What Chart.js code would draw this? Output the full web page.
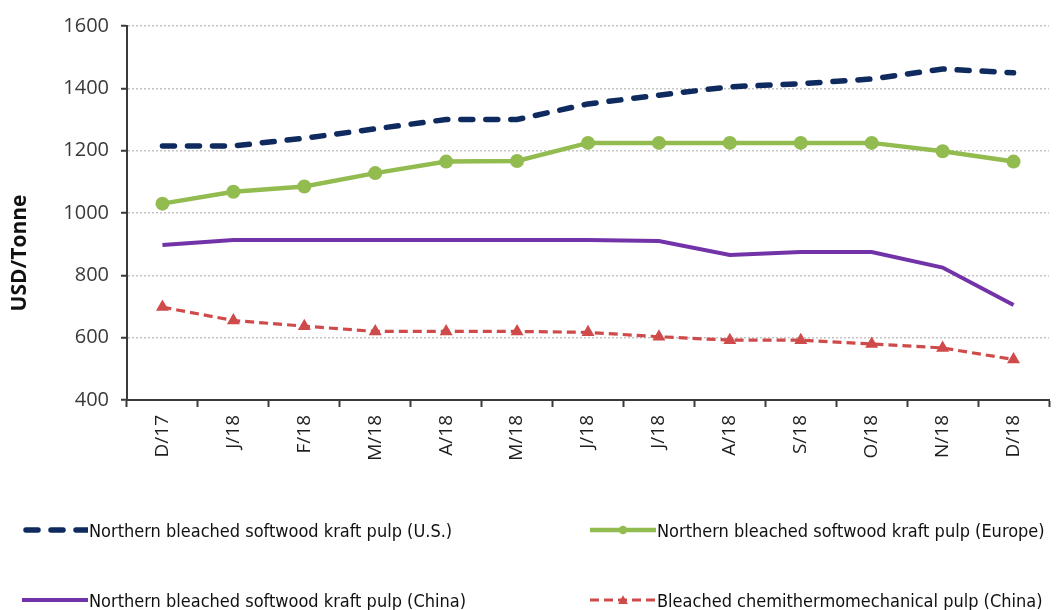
<!DOCTYPE html>
<html>
<head>
<meta charset="utf-8">
<script src="https://cdn.jsdelivr.net/npm/chart.js@4.4.1/dist/chart.umd.min.js"></script>
<style>
  html, body { margin: 0; padding: 0; background: #fff; }
  #wrap { position: relative; width: 1058px; height: 610px; overflow: hidden; }
  #c { position: absolute; left: 0; top: 0; }
  .leg { position: absolute; display: flex; align-items: center; height: 30px;
         font-family: "Liberation Sans Narrow", "DejaVu Sans Condensed", sans-serif;
         font-size: 18px; color: #111; white-space: nowrap; }
  .leg svg { display: block; margin-right: 1px; }
</style>
</head>
<body>
<div id="wrap">
  <canvas id="c" width="1058" height="610"></canvas>
  <div id="legend"></div>
</div>
<script>
// Monthly pulp prices, Dec 2017 - Dec 2018 (USD per tonne)
const months = ['D/17', 'J/18', 'F/18', 'M/18', 'A/18', 'M/18', 'J/18', 'J/18', 'A/18', 'S/18', 'O/18', 'N/18', 'D/18'];
const nbskUS     = [1215, 1215, 1240, 1270, 1300, 1300, 1350, 1378, 1405, 1415, 1430, 1462, 1450];
const nbskEurope = [1030, 1068, 1085, 1128, 1165, 1167, 1225, 1225, 1225, 1225, 1225, 1198, 1165];
const nbskChina  = [897, 913, 913, 913, 913, 913, 913, 910, 865, 875, 875, 825, 705];
const bctmpChina = [698, 655, 637, 620, 620, 620, 617, 603, 592, 592, 580, 567, 530];

const seriesNames = [
  'Northern bleached softwood kraft pulp (U.S.)',
  'Northern bleached softwood kraft pulp (Europe)',
  'Northern bleached softwood kraft pulp (China)',
  'Bleached chemithermomechanical pulp (China)'
];
const yMin = 400, yMax = 1600, yStep = 200;
const yTitle = 'USD/Tonne';

const NAVY = '#0e2a5e', GREEN = '#92bb50', PURPLE = '#7333a8', RED = '#cf4a4a';
const tickFont = '"Open Sans", "Liberation Sans", sans-serif';

const datasets = [
  { label: seriesNames[0], data: nbskUS, borderColor: NAVY, backgroundColor: NAVY,
    borderWidth: 5.5, borderDash: [12, 13], borderCapStyle: 'round', pointRadius: 0 },
  { label: seriesNames[1], data: nbskEurope, borderColor: GREEN, backgroundColor: GREEN,
    borderWidth: 4.5, pointStyle: 'circle', pointRadius: 7, pointBorderWidth: 0 },
  { label: seriesNames[2], data: nbskChina, borderColor: PURPLE, backgroundColor: PURPLE,
    borderWidth: 4, pointRadius: 0 },
  { label: seriesNames[3], data: bctmpChina, borderColor: RED, backgroundColor: RED,
    borderWidth: 3.2, borderDash: [9, 5], pointStyle: 'triangle', pointRadius: 7.5, pointBorderWidth: 0 }
];

// Vertical axis title, set a little below the middle of the value axis
const axisTitlePlugin = {
  id: 'axisTitle',
  afterDraw(chart) {
    const ctx = chart.ctx;
    ctx.save();
    ctx.translate(20, 253);
    ctx.rotate(-Math.PI / 2);
    ctx.font = 'bold 21px ' + tickFont;
    ctx.fillStyle = '#111';
    ctx.textAlign = 'center';
    ctx.textBaseline = 'middle';
    ctx.fillText(yTitle, 0, 0);
    ctx.restore();
  }
};

const chart = new Chart(document.getElementById('c'), {
  type: 'line',
  data: { labels: months, datasets },
  plugins: [axisTitlePlugin],
  options: {
    responsive: false,
    animation: false,
    devicePixelRatio: 1,
    layout: { padding: { top: 26, left: 0, right: 9, bottom: 130 } },
    plugins: { legend: { display: false }, tooltip: { enabled: false } },
    elements: { line: { tension: 0 } },
    scales: {
      x: {
        type: 'category',
        offset: true,
        grid: { display: true, drawOnChartArea: false, drawTicks: true, offset: true,
                tickLength: 7, tickColor: '#3a3a3a', tickWidth: 2 },
        border: { display: true, color: '#3a3a3a', width: 2 },
        ticks: { minRotation: 90, maxRotation: 90, autoSkip: false, padding: 8,
                 color: '#1e1e1e', font: { family: tickFont, size: 19 } },
        afterFit: s => { s.height = 80; }
      },
      y: {
        min: yMin, max: yMax,
        ticks: { stepSize: yStep, padding: 12, color: '#3a3a3a',
                 font: { family: tickFont, size: 20 },
                 callback: v => String(v) },
        grid: { color: '#c4c4c4', lineWidth: 1.5, tickColor: '#3a3a3a', tickLength: 6,
                tickWidth: 2, tickBorderDash: [] },
        border: { display: true, color: '#3a3a3a', width: 2, dash: [2, 2] },
        afterFit: s => { s.width = 127; }
      }
    }
  }
});

// Legend: two rows of two entries under the plot
const legendSlots = [
  { x: 22, y: 515 }, { x: 590, y: 515 },
  { x: 22, y: 585 }, { x: 590, y: 585 }
];
const legendEl = document.getElementById('legend');
datasets.forEach((ds, i) => {
  const w = 66, h = 20, mid = h / 2;
  let svg = `<svg width="${w}" height="${h}">`;
  const dash = ds.borderDash ? `stroke-dasharray="${ds.borderDash.join(' ')}"` : '';
  const cap = ds.borderCapStyle === 'round' ? 'stroke-linecap="round"' : '';
  const x0 = ds.borderCapStyle === 'round' ? 4 : 0;
  svg += `<line x1="${x0}" y1="${mid}" x2="${w}" y2="${mid}" stroke="${ds.borderColor}" stroke-width="${ds.borderWidth}" ${dash} ${cap}/>`;
  if (ds.pointStyle === 'circle') {
    svg += `<circle cx="${w / 2}" cy="${mid}" r="${ds.pointRadius * 0.6}" fill="${ds.backgroundColor}"/>`;
  } else if (ds.pointStyle === 'triangle') {
    const r = ds.pointRadius * 0.65;
    svg += `<polygon points="${w / 2},${mid - r} ${w / 2 + r},${mid + r * 0.8} ${w / 2 - r},${mid + r * 0.8}" fill="${ds.backgroundColor}"/>`;
  }
  svg += '</svg>';
  const div = document.createElement('div');
  div.className = 'leg';
  div.style.left = legendSlots[i].x + 'px';
  div.style.top = legendSlots[i].y + 'px';
  div.innerHTML = svg + '<span>' + ds.label + '</span>';
  legendEl.appendChild(div);
});
</script>
</body>
</html>
